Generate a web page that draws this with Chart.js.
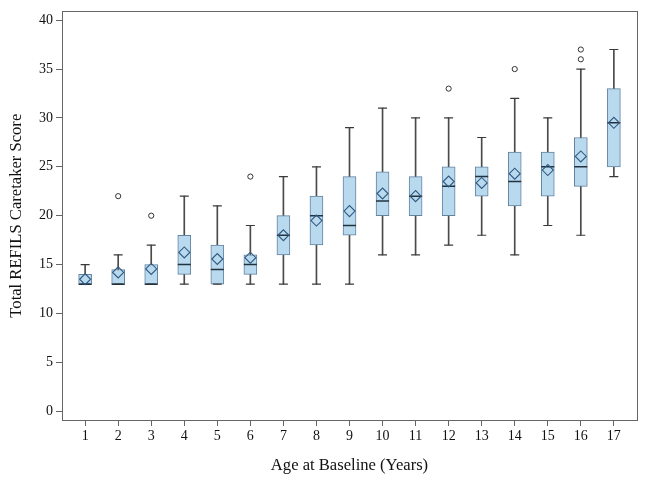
<!DOCTYPE html>
<html>
<head>
<meta charset="utf-8">
<script src="https://cdn.jsdelivr.net/npm/chart.js@4.4.1/dist/chart.umd.min.js"></script>
<style>
  html, body { margin: 0; padding: 0; background: #fff; }
  #wrap { width: 645px; height: 484px; }
</style>
</head>
<body>
<div id="wrap"><canvas id="myChart"></canvas></div>
<script>
  // box plot summary per age
  const ages = [1, 2, 3, 4, 5, 6, 7, 8, 9, 10, 11, 12, 13, 14, 15, 16, 17];
  const whiskLow = [13, 13, 13, 13, 13, 13, 13, 13, 13, 16, 16, 17, 18, 16, 19, 18, 24];
  const q1 = [13, 13, 13, 14, 13, 14, 16, 17, 18, 20, 20, 20, 22, 21, 22, 23, 25];
  const median = [13, 13, 13, 15, 14.5, 15, 18, 20, 19, 21.5, 22, 23, 24, 23.5, 25, 25, 29.5];
  const q3 = [14, 14.5, 15, 18, 17, 16, 20, 22, 24, 24.5, 24, 25, 25, 26.5, 26.5, 28, 33];
  const whiskHigh = [15, 16, 17, 22, 21, 19, 24, 25, 29, 31, 30, 30, 28, 32, 30, 35, 37];
  const means = [13.5, 14.2, 14.55, 16.24, 15.57, 15.7, 18, 19.5, 20.47, 22.27, 22, 23.5, 23.35, 24.3, 24.67, 26.06, 29.5];
  const outlierAge = [2, 3, 6, 12, 14, 16, 16];
  const outlierValue = [22, 20, 24, 33, 35, 36, 37];
  const yTicks = [0, 5, 10, 15, 20, 25, 30, 35, 40];

  const serif = "'Liberation Serif', 'Times New Roman', serif";

  // frame around the plot area (top and right sides too)
  const frame = {
    id: 'frame',
    afterDraw(chart) {
      const a = chart.chartArea;
      const ctx = chart.ctx;
      ctx.save();
      ctx.strokeStyle = '#666';
      ctx.lineWidth = 1;
      ctx.strokeRect(Math.round(a.left) + 0.5, Math.round(a.top) + 0.5,
                     Math.round(a.right - a.left), Math.round(a.bottom - a.top));
      ctx.restore();
    }
  };

  const datasets = [
    {
      // whiskers
      type: 'bar',
      data: ages.map((a, i) => ({ x: a, y: [whiskLow[i], whiskHigh[i]] })),
      backgroundColor: '#4a4a4a',
      borderWidth: 0,
      barThickness: 1,
      grouped: false,
      order: 6
    },
    {
      // boxes
      type: 'bar',
      data: ages.map((a, i) => ({ x: a, y: [q1[i], q3[i]] })),
      backgroundColor: '#b9d9ee',
      borderColor: '#6382a0',
      borderWidth: 1,
      borderSkipped: false,
      barThickness: 13,
      grouped: false,
      order: 5
    },
    {
      // whisker caps
      type: 'scatter',
      data: ages.map((a, i) => ({ x: a, y: whiskHigh[i] }))
        .concat(ages.map((a, i) => ({ x: a, y: whiskLow[i] }))),
      pointStyle: 'line',
      pointRadius: 4.5,
      borderColor: '#3a3a3a',
      borderWidth: 1.2,
      order: 4
    },
    {
      // medians
      type: 'scatter',
      data: ages.map((a, i) => ({ x: a, y: median[i] })),
      pointStyle: 'line',
      pointRadius: 6.5,
      borderColor: '#22333f',
      borderWidth: 1.5,
      order: 3
    },
    {
      // means
      type: 'scatter',
      data: ages.map((a, i) => ({ x: a, y: means[i] })),
      pointStyle: 'rectRot',
      pointRadius: 5.5,
      backgroundColor: 'rgba(0,0,0,0)',
      borderColor: '#2f5a80',
      borderWidth: 1.1,
      order: 1
    },
    {
      // outliers
      type: 'scatter',
      data: outlierAge.map((a, i) => ({ x: a, y: outlierValue[i] })),
      pointStyle: 'circle',
      pointRadius: 2.6,
      backgroundColor: 'rgba(0,0,0,0)',
      borderColor: '#333',
      borderWidth: 1,
      order: 1
    }
  ];

  var canvas = document.getElementById("myChart");
  var setup = {
    type: 'bar',
    data: { datasets: datasets },
    options: {
      responsive: true,
      maintainAspectRatio: false,
      animation: false,
      layout: { padding: { top: 8, right: 8, left: 0, bottom: 0 } },
      plugins: {
        legend: { display: false },
        tooltip: { enabled: false }
      },
      scales: {
        x: {
          type: 'linear',
          min: 0.3,
          max: 17.7,
          offset: false,
          afterBuildTicks: (scale) => { scale.ticks = ages.map(v => ({ value: v })); },
          afterFit: (scale) => { scale.height = 64; },
          grid: { offset: false, drawOnChartArea: false, drawTicks: true, tickLength: 6, color: '#666' },
          border: { color: '#666' },
          ticks: { color: '#111', padding: 2, maxRotation: 0, font: { family: serif, size: 14 } },
          title: {
            display: true,
            text: 'Age at Baseline (Years)',
            color: '#111',
            font: { family: serif, size: 16.6 },
            padding: { top: 0, bottom: 8 }
          }
        },
        y: {
          type: 'linear',
          min: -0.9,
          max: 40.9,
          afterBuildTicks: (scale) => { scale.ticks = yTicks.map(v => ({ value: v })); },
          afterFit: (scale) => { scale.width = 62; },
          grid: { drawOnChartArea: false, drawTicks: true, tickLength: 6, color: '#666' },
          border: { color: '#666' },
          ticks: { color: '#111', padding: 3, font: { family: serif, size: 14 } },
          title: {
            display: true,
            text: 'Total REFILS Caretaker Score',
            color: '#111',
            font: { family: serif, size: 16.6 },
            padding: { top: 7, bottom: 0 }
          }
        }
      }
    },
    plugins: [frame]
  };
  chart = new Chart(canvas, setup);
</script>
</body>
</html>
